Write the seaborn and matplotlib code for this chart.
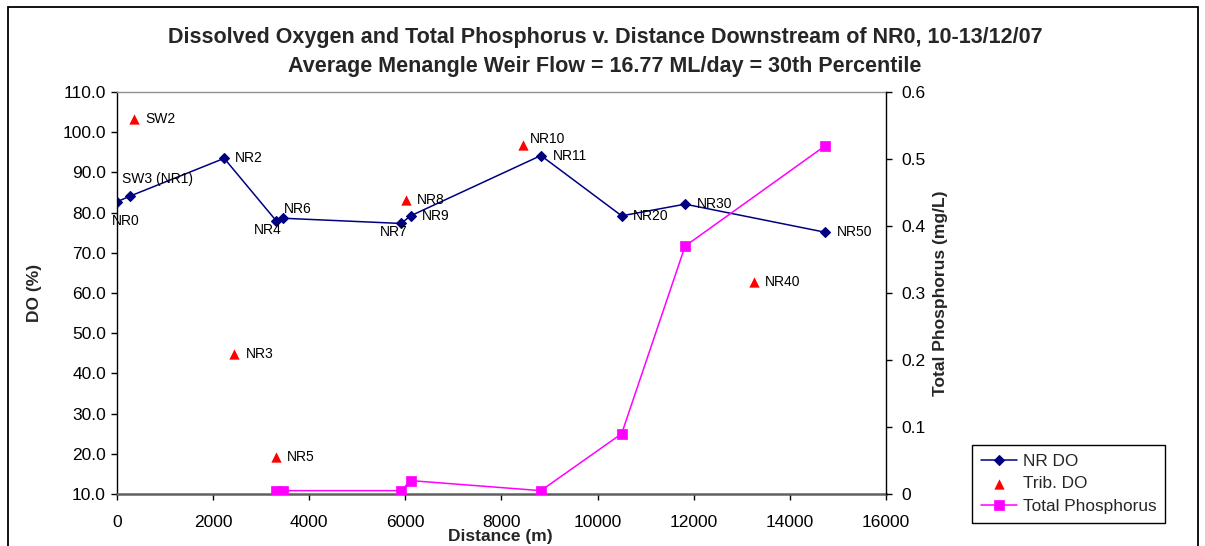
import matplotlib
matplotlib.use("Agg")
import matplotlib.pyplot as plt
from matplotlib.patches import Rectangle
from matplotlib.ticker import FuncFormatter, MultipleLocator
import seaborn as sns
import pandas as pd

# ---- data ----
nr_sites = ["NR0", "SW3 (NR1)", "NR2", "NR4", "NR6", "NR7", "NR9", "NR11", "NR20", "NR30", "NR50"]
nr_dist = [0, 270, 2230, 3310, 3450, 5910, 6110, 8820, 10500, 11820, 14740]
nr_do = [82.7, 84.1, 93.5, 78.0, 78.6, 77.3, 79.2, 94.2, 79.2, 82.1, 75.1]

trib_sites = ["SW2", "NR3", "NR5", "NR8", "NR10", "NR40"]
trib_dist = [360, 2440, 3300, 6010, 8440, 13250]
trib_do = [103.3, 44.8, 19.3, 83.1, 96.7, 62.7]

tp_dist = [3310, 3450, 5910, 6110, 8820, 10500, 11820, 14740]
tp_vals = [0.005, 0.005, 0.005, 0.02, 0.005, 0.09, 0.37, 0.52]

x_ticks = [0, 2000, 4000, 6000, 8000, 10000, 12000, 14000, 16000]

title = ("Dissolved Oxygen and Total Phosphorus v. Distance Downstream of NR0, 10-13/12/07\n"
         "Average Menangle Weir Flow = 16.77 ML/day = 30th Percentile")

# label offsets in pixels (dx, dy with dy positive = down)
nr_offsets = [(-5, 19), (-8, -17), (11, 0), (-22, 9), (1, -9), (-21, 9), (11, 0), (12, 0), (11, 0), (12, 0), (11, 0)]
trib_offsets = [(11, 0), (12, 0), (11, 0), (11, 0), (7, -6), (11, 0)]

sns.set_style("white")
plt.rcParams["font.family"] = ["Liberation Sans", "DejaVu Sans"]

W, H = 1205, 546
fig = plt.figure(figsize=(W / 100, H / 100), dpi=100)
ax = fig.add_axes([117 / W, 1 - 494 / H, (886 - 117) / W, (494 - 92) / H])
ax2 = ax.twinx()

nr_df = pd.DataFrame({"dist": nr_dist, "do": nr_do})
trib_df = pd.DataFrame({"dist": trib_dist, "do": trib_do})
tp_df = pd.DataFrame({"dist": tp_dist, "tp": tp_vals})

sns.lineplot(data=nr_df, x="dist", y="do", ax=ax, color="#000080", marker="D",
             markersize=5, markeredgewidth=0.8, markeredgecolor="#000080",
             linewidth=1.1, sort=False, label="NR DO", legend=False)
sns.scatterplot(data=trib_df, x="dist", y="do", ax=ax, color="#FF0000", marker="^",
                s=55, linewidth=0, label="Trib. DO", legend=False, zorder=3)
sns.lineplot(data=tp_df, x="dist", y="tp", ax=ax2, color="#FF00FF", marker="s",
             markersize=6.5, markeredgewidth=0.5, markeredgecolor="#FF00FF",
             linewidth=1.1, sort=False, label="Total Phosphorus", legend=False)

for leg_ax in (ax, ax2):
    if leg_ax.get_legend() is not None:
        leg_ax.get_legend().remove()

px = 0.72
for name, xv, yv, (dx, dy) in zip(nr_sites, nr_dist, nr_do, nr_offsets):
    ax.annotate(name, (xv, yv), xytext=(dx * px, -dy * px), textcoords="offset points",
                ha="left", va="center", fontsize=10, color="black")
for name, xv, yv, (dx, dy) in zip(trib_sites, trib_dist, trib_do, trib_offsets):
    ax.annotate(name, (xv, yv), xytext=(dx * px, -dy * px), textcoords="offset points",
                ha="left", va="center", fontsize=10, color="black")

# axes limits & ticks
ax.set_xlim(0, 16000)
ax.set_ylim(10, 110)
ax2.set_ylim(0, 0.6)
ax.set_xticks(x_ticks)
ax.set_xticklabels([str(t) for t in x_ticks])
ax.yaxis.set_major_locator(MultipleLocator(10))
ax.yaxis.set_major_formatter(FuncFormatter(lambda v, _: f"{v:.1f}"))
ax2.yaxis.set_major_locator(MultipleLocator(0.1))
ax2.yaxis.set_major_formatter(FuncFormatter(lambda v, _: "0" if abs(v) < 1e-9 else f"{v:.1f}"))

ax.tick_params(axis="x", direction="out", length=4, width=1, pad=11, labelsize=12.5, colors="black", bottom=True)
ax.tick_params(axis="y", direction="out", length=4, width=1, pad=4, labelsize=12.5, colors="black", left=True)
ax2.tick_params(axis="y", direction="out", length=4, width=1, pad=7, labelsize=12.5, colors="black", right=True)

for a in (ax, ax2):
    for s in a.spines.values():
        s.set_visible(False)
ax.spines["left"].set_visible(True)
ax.spines["left"].set_color("black")
ax.spines["left"].set_linewidth(1)
ax.spines["bottom"].set_visible(True)
ax.spines["bottom"].set_color("#606060")
ax.spines["bottom"].set_linewidth(1.8)
ax.spines["top"].set_visible(True)
ax.spines["top"].set_color("#909090")
ax.spines["top"].set_linewidth(1)
ax2.spines["right"].set_visible(True)
ax2.spines["right"].set_color("black")
ax2.spines["right"].set_linewidth(1)
ax.grid(False)
ax2.grid(False)

ax.set_xlabel("Distance (m)", fontsize=12.5, fontweight="bold", va="center")
ax.xaxis.set_label_coords((500 - 117) / 769, (494 - 536) / 402)
ax.set_ylabel("DO (%)", fontsize=12.5, fontweight="bold", va="center")
ax.yaxis.set_label_coords((35 - 117) / 769, 0.5)
ax2.set_ylabel("Total Phosphorus (mg/L)", fontsize=12.5, fontweight="bold", va="center")
ax2.yaxis.set_label_coords((941 - 117) / 769, 0.5)

fig.text(605 / W, 1 - 52 / H, title, ha="center", va="center", fontsize=15.5,
         fontweight="bold", linespacing=1.5)

# legend
h1, l1 = ax.get_legend_handles_labels()
h2, l2 = ax2.get_legend_handles_labels()
leg = fig.legend(h1 + h2, l1 + l2, loc="upper left", bbox_to_anchor=(972 / W, 1 - 445 / H),
                 bbox_transform=fig.transFigure, borderaxespad=0, fontsize=12.4,
                 handlelength=2.1, handletextpad=0.35, labelspacing=0.45, borderpad=0.5,
                 fancybox=False, frameon=True, framealpha=1)
leg.get_frame().set_edgecolor("black")
leg.get_frame().set_linewidth(1)

# outer chart border
fig.patches.append(Rectangle((8 / W, -0.05), (1198 - 8) / W, 1.05 - 7.5 / H,
                             transform=fig.transFigure, fill=False, edgecolor="black",
                             linewidth=1.3, zorder=0))

fig.savefig("out.png", dpi=100)
